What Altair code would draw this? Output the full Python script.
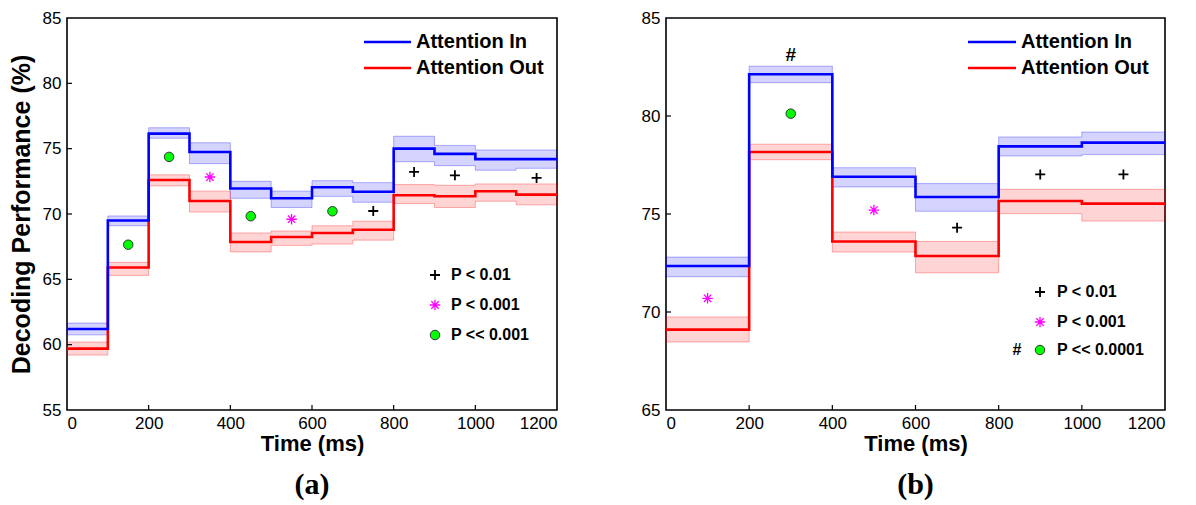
import altair as alt
import pandas as pd

# ---------------- data: panel (a) ----------------
A_EDGES = [0, 100, 200, 300, 400, 500, 600, 700, 800, 900, 1000, 1100, 1200]
A_IN = [61.2, 69.5, 76.15, 74.75, 71.95, 71.2, 72.05, 71.7, 75.0, 74.6, 74.2, 74.2]
A_IN_HI = [61.65, 69.85, 76.6, 75.45, 72.5, 71.75, 72.55, 72.4, 75.95, 75.25, 74.9, 74.9]
A_IN_LO = [60.75, 69.1, 75.8, 73.85, 71.2, 70.5, 71.35, 70.9, 74.0, 73.7, 73.35, 73.5]
A_OUT = [59.7, 65.9, 72.6, 71.0, 67.86, 68.24, 68.55, 68.8, 71.43, 71.36, 71.74, 71.48]
A_OUT_HI = [60.2, 66.3, 73.0, 71.75, 68.55, 68.7, 69.1, 69.45, 72.25, 72.2, 72.3, 72.3]
A_OUT_LO = [59.2, 65.3, 72.15, 70.15, 67.1, 67.6, 67.7, 68.0, 70.8, 70.5, 70.98, 70.7]
A_MARK_T = [150, 250, 350, 450, 550, 650, 750, 850, 950, 1150]
A_MARK_V = [67.65, 74.37, 72.83, 69.83, 69.6, 70.21, 70.23, 73.22, 72.96, 72.76]
A_MARK_K = ["circle", "circle", "star", "circle", "star", "circle", "plus", "plus", "plus", "plus"]
A_YTICKS = [55, 60, 65, 70, 75, 80, 85]
A_SIG = ["P < 0.01", "P < 0.001", "P << 0.001"]

# ---------------- data: panel (b) ----------------
B_EDGES = [0, 200, 400, 600, 800, 1000, 1200]
B_IN = [72.35, 82.13, 76.9, 75.87, 78.45, 78.64]
B_IN_HI = [72.8, 82.54, 77.36, 76.55, 78.93, 79.18]
B_IN_LO = [71.8, 81.7, 76.38, 75.14, 77.96, 78.03]
B_OUT = [69.1, 78.16, 73.6, 72.86, 75.66, 75.53]
B_OUT_HI = [69.75, 78.56, 74.08, 73.6, 76.26, 76.26]
B_OUT_LO = [68.47, 77.77, 73.06, 72.0, 75.02, 74.64]
B_MARK_T = [100, 300, 300, 500, 700, 900, 1100]
B_MARK_V = [70.7, 80.12, 83.13, 75.2, 74.3, 77.02, 77.02]
B_MARK_K = ["star", "circle", "hash", "star", "plus", "plus", "plus"]
B_YTICKS = [65, 70, 75, 80, 85]
B_SIG = ["P < 0.01", "P < 0.001", "P << 0.0001"]

X_TICKS = [0, 200, 400, 600, 800, 1000, 1200]
SERIES = ["Attention In", "Attention Out"]

BLUE = "#0000FF"
RED = "#FF0000"
GREEN = "#00FF00"
MAGENTA = "#FF00FF"
SANS = "Liberation Sans"
SERIF = "Liberation Serif"

PLUS = "M0,-1L0,1M-1,0L1,0"
STAR = "M0,-1L0,1M-1,0L1,0M-0.7,-0.7L0.7,0.7M-0.7,0.7L0.7,-0.7"

H = 392
DUMMY = pd.DataFrame({"d": [0]})


def step_frame(edges, mid, hi, lo):
    return pd.DataFrame({
        "t": edges,
        "v": list(mid) + [mid[-1]],
        "hi": list(hi) + [hi[-1]],
        "lo": list(lo) + [lo[-1]],
    })


def panel(edges, s_in, in_hi, in_lo, s_out, out_hi, out_lo,
          mt, mv, mk, yticks, sig, W, leg, tag, show_ytitle):
    ydom = [yticks[0], yticks[-1]]
    xs = alt.Scale(domain=[0, 1200], nice=False, zero=False)
    ys = alt.Scale(domain=ydom, nice=False, zero=False)
    xax = alt.Axis(values=X_TICKS, format="d", ticks=False, domain=False, grid=False,
                   labelPadding=5, title="Time (ms)", titlePadding=2)
    yax = alt.Axis(values=yticks, format="d", ticks=False, domain=False, grid=False,
                   labelPadding=6,
                   title="Decoding Performance (%)" if show_ytitle else None,
                   titlePadding=8)
    X = alt.X("t:Q", scale=xs, axis=xax)
    layers = []
    for df, col in [(step_frame(edges, s_in, in_hi, in_lo), BLUE),
                    (step_frame(edges, s_out, out_hi, out_lo), RED)]:
        base = alt.Chart(df)
        layers.append(base.mark_area(interpolate="step-after", color=col,
                                     fillOpacity=0.17, stroke=col,
                                     strokeOpacity=0.3, strokeWidth=1)
                      .encode(x=X, y=alt.Y("lo:Q", scale=ys, axis=yax), y2="hi:Q"))
    for df, col in [(step_frame(edges, s_out, out_hi, out_lo), RED),
                    (step_frame(edges, s_in, in_hi, in_lo), BLUE)]:
        layers.append(alt.Chart(df).mark_line(interpolate="step-after", color=col,
                                              strokeWidth=2.6)
                      .encode(x=X, y=alt.Y("v:Q", scale=ys, axis=yax)))
    marks = pd.DataFrame({"t": mt, "v": mv, "k": mk})
    mb = alt.Chart(marks)
    Y = alt.Y("v:Q", scale=ys, axis=yax)
    layers.append(mb.transform_filter(alt.datum.k == "plus")
                  .mark_point(shape=PLUS, filled=False, color="black",
                              strokeWidth=1.8, size=100, opacity=1)
                  .encode(x=X, y=Y))
    layers.append(mb.transform_filter(alt.datum.k == "star")
                  .mark_point(shape=STAR, filled=False, color=MAGENTA,
                              strokeWidth=1.3, size=110, opacity=1)
                  .encode(x=X, y=Y))
    layers.append(mb.transform_filter(alt.datum.k == "circle")
                  .mark_point(shape="circle", filled=True, fill=GREEN,
                              stroke="#333333", strokeWidth=1, size=90, opacity=1)
                  .encode(x=X, y=Y))
    layers.append(mb.transform_filter(alt.datum.k == "hash")
                  .mark_text(text="#", font=SANS, fontSize=19, fontWeight="bold",
                             color="black", baseline="middle")
                  .encode(x=X, y=Y))

    # inward ticks
    xt = pd.DataFrame({"t": X_TICKS[1:-1]})
    layers.append(alt.Chart(xt).mark_rule(color="black", strokeWidth=1.2)
                  .encode(x=X, y=alt.value(H), y2=alt.value(H - 5)))
    yt = pd.DataFrame({"v": yticks[1:-1]})
    layers.append(alt.Chart(yt).mark_rule(color="black", strokeWidth=1.2)
                  .encode(y=Y, x=alt.value(0), x2=alt.value(5)))

    # legend: lines
    lx0, lx1, tx = leg["line"]
    for i, (name, col) in enumerate(zip(SERIES, [BLUE, RED])):
        yy = 24 + 26 * i
        layers.append(alt.Chart(DUMMY).mark_rule(color=col, strokeWidth=2.6)
                      .encode(x=alt.value(lx0), x2=alt.value(lx1), y=alt.value(yy)))
        layers.append(alt.Chart(DUMMY).mark_text(text=name, font=SANS, fontSize=20,
                                                 fontWeight="bold", align="left",
                                                 baseline="middle", color="black")
                      .encode(x=alt.value(tx), y=alt.value(yy)))
    # legend: significance
    sx, stx, sy = leg["sig"]
    layers.append(alt.Chart(DUMMY).mark_point(shape=PLUS, filled=False, color="black",
                                              strokeWidth=1.8, size=100, opacity=1)
                  .encode(x=alt.value(sx), y=alt.value(sy[0])))
    layers.append(alt.Chart(DUMMY).mark_point(shape=STAR, filled=False, color=MAGENTA,
                                              strokeWidth=1.3, size=110, opacity=1)
                  .encode(x=alt.value(sx), y=alt.value(sy[1])))
    layers.append(alt.Chart(DUMMY).mark_point(shape="circle", filled=True, fill=GREEN,
                                              stroke="#333333", strokeWidth=1, size=90,
                                              opacity=1)
                  .encode(x=alt.value(sx), y=alt.value(sy[2])))
    if leg.get("hash") is not None:
        layers.append(alt.Chart(DUMMY).mark_text(text="#", font=SANS, fontSize=16,
                                                 fontWeight="bold", color="black",
                                                 baseline="middle")
                      .encode(x=alt.value(leg["hash"]), y=alt.value(sy[2])))
    for i, s in enumerate(sig):
        layers.append(alt.Chart(DUMMY).mark_text(text=s, font=SANS, fontSize=16,
                                                 fontWeight="bold", align="left",
                                                 baseline="middle", color="black")
                      .encode(x=alt.value(stx), y=alt.value(sy[i])))

    return alt.layer(*layers).properties(
        width=W, height=H,
        title=alt.TitleParams(text=tag, orient="bottom", font=SERIF, fontSize=30,
                              fontWeight="bold", color="black", offset=16),
    )


left = panel(A_EDGES, A_IN, A_IN_HI, A_IN_LO, A_OUT, A_OUT_HI, A_OUT_LO,
             A_MARK_T, A_MARK_V, A_MARK_K, A_YTICKS, A_SIG, 490,
             {"line": (297, 344, 349), "sig": (368, 384, [257, 287, 317])},
             "(a)", True)
right = panel(B_EDGES, B_IN, B_IN_HI, B_IN_LO, B_OUT, B_OUT_HI, B_OUT_LO,
              B_MARK_T, B_MARK_V, B_MARK_K, B_YTICKS, B_SIG, 499,
              {"line": (302, 350, 355), "sig": (374, 391, [274, 304, 332]), "hash": 351},
              "(b)", False)

chart = alt.hconcat(left, right, spacing=109, bounds="flush").properties(
    padding={"left": 8, "top": 8, "right": 5, "bottom": 5},
    background="white",
).configure_view(stroke="black", strokeWidth=1.6).configure_axis(
    labelFont=SANS, labelFontSize=17, labelColor="black",
    titleFont=SANS, titleFontSize=22, titleFontWeight="bold", titleColor="black",
).configure_axisY(titleFontSize=25)

chart.save("out.html", embed_options={"renderer": "svg", "actions": False})
